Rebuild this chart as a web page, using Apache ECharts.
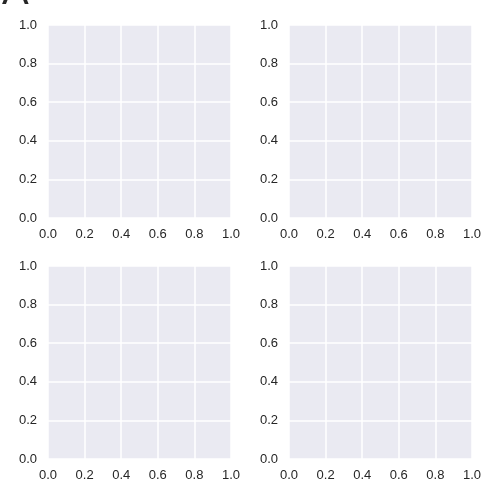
<!DOCTYPE html>
<html>
<head>
<meta charset="utf-8">
<style>html,body{margin:0;padding:0;background:#fff;}#c{width:500px;height:500px;}</style>
<script src="https://cdn.jsdelivr.net/npm/echarts@6/dist/echarts.min.js"></script>
</head>
<body>
<div id="c"></div>
<script>
var panelLabel = 'A';
var axisMin = 0;
var axisMax = 1;
var tickStep = 0.2;
var xTickLabels = ['0.0','0.2','0.4','0.6','0.8','1.0'];
var yTickLabels = ['0.0','0.2','0.4','0.6','0.8','1.0'];

var chart = echarts.init(document.getElementById('c'), null, {renderer:'canvas'});
var panels = [
  {left:48, top:25},
  {left:289, top:25},
  {left:48, top:266},
  {left:289, top:266}
];
var grids = [], xAxes = [], yAxes = [], series = [];
function mkAxis(i, labels, margin){
  return {
    gridIndex:i, type:'value', min:axisMin, max:axisMax, interval:tickStep,
    axisLine:{show:false}, axisTick:{show:false},
    splitLine:{show:true, lineStyle:{color:'#ffffff', width:1.5}},
    axisLabel:{color:'#262626', fontSize:13, margin:margin, fontFamily:'Liberation Sans, Arial, sans-serif',
      formatter:function(v){ return labels[Math.round((v-axisMin)/tickStep)]; }}
  };
}
panels.forEach(function(p, i){
  grids.push({left:p.left, top:p.top, width:183, height:193, show:true, backgroundColor:'#EAEAF2', borderWidth:0, containLabel:false});
  xAxes.push(mkAxis(i, xTickLabels, 10));
  yAxes.push(mkAxis(i, yTickLabels, 11));
  series.push({type:'line', xAxisIndex:i, yAxisIndex:i, data:[], silent:true});
});
chart.setOption({
  animation:false,
  backgroundColor:'#ffffff',
  title:{text:panelLabel, left:-3, top:-32, textStyle:{fontSize:40, fontWeight:'normal', color:'#262626', fontFamily:'Liberation Sans, Arial, sans-serif'}},
  grid:grids, xAxis:xAxes, yAxis:yAxes, series:series
});
</script>
</body>
</html>
